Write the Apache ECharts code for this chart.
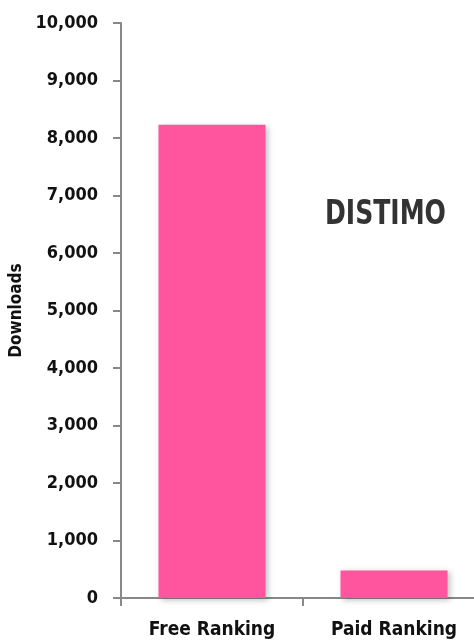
<!DOCTYPE html>
<html><head><meta charset="utf-8">
<script src="https://cdn.jsdelivr.net/npm/echarts@6/dist/echarts.min.js"></script>
<style>html,body{margin:0;padding:0;background:#fff}#c{width:474px;height:642px}</style>
</head><body><div id="c"></div>
<script>
const categories = ['Free Ranking', 'Paid Ranking'];
const downloads = [8230, 480];
const yTicks = [0, 1000, 2000, 3000, 4000, 5000, 6000, 7000, 8000, 9000, 10000];

const font = '"DejaVu Sans Condensed", "Liberation Sans Narrow", sans-serif';
const chart = echarts.init(document.getElementById('c'));
chart.setOption({
  animation: false,
  grid: { left: 121, top: 23, width: 364, height: 575, containLabel: false, outerBoundsMode: 'none' },
  xAxis: {
    type: 'category', data: categories,
    axisLine: { lineStyle: { color: '#888', width: 2 } },
    axisTick: { show: true, alignWithLabel: false, length: 8, lineStyle: { color: '#888', width: 2 } },
    axisLabel: { color: '#111', fontFamily: font, fontWeight: 'bold', fontSize: 19, margin: 23 }
  },
  yAxis: {
    type: 'value', min: yTicks[0], max: yTicks[yTicks.length - 1], interval: 1000,
    name: 'Downloads', nameLocation: 'middle', nameGap: 87,
    nameTextStyle: { color: '#111', fontFamily: font, fontWeight: 'bold', fontSize: 17 },
    splitLine: { show: false },
    axisLine: { show: true, lineStyle: { color: '#888', width: 2 } },
    axisTick: { show: true, length: 8, lineStyle: { color: '#888', width: 2 } },
    axisLabel: { color: '#111', fontFamily: font, fontWeight: 'bold', fontSize: 18, margin: 23,
      formatter: v => v.toLocaleString('en-US') }
  },
  series: [{
    type: 'bar', data: downloads, barWidth: 107,
    itemStyle: { color: '#FF559E', shadowColor: 'rgba(0,0,0,0.25)', shadowBlur: 6, shadowOffsetX: 2, shadowOffsetY: 2 }
  }],
  graphic: [{
    type: 'text', x: 325, y: 198, scaleX: 0.82,
    style: { text: 'DISTIMO', fill: '#333', font: 'bold 34px ' + font }
  }]
});
</script></body></html>
